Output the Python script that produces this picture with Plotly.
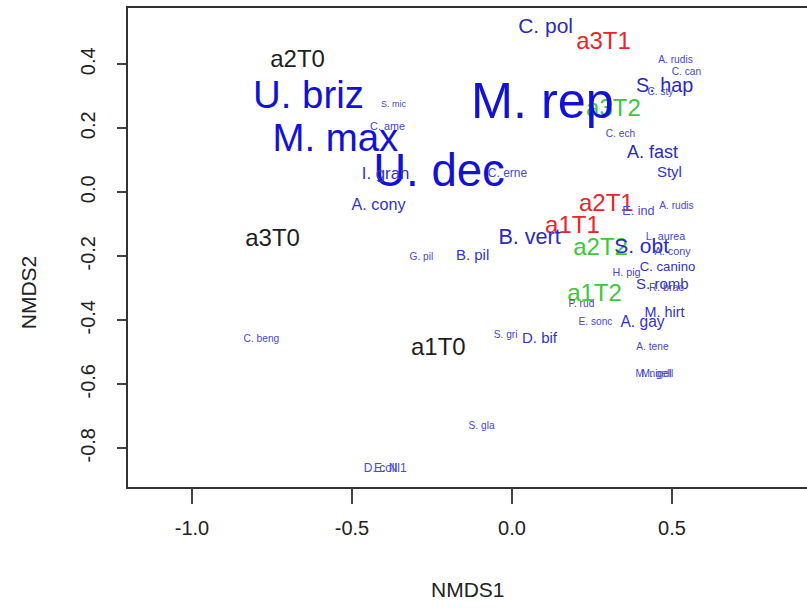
import plotly.graph_objects as go

# ---- sample (site) scores ----
sample_names = ["a2T0", "a3T0", "a1T0", "a3T1", "a2T1", "a1T1", "a3T2", "a2T2", "a1T2"]
sample_x = [-0.670, -0.748, -0.230, 0.286, 0.295, 0.189, 0.317, 0.277, 0.258]
sample_y = [0.411, -0.149, -0.490, 0.467, -0.040, -0.108, 0.257, -0.177, -0.321]
sample_time = ["T0", "T0", "T0", "T1", "T1", "T1", "T2", "T2", "T2"]

# ---- species scores (label weight = relative abundance, cex-like) ----
species_names = ["M. rep", "U. dec", "U. briz", "M. max", "C. pol", "B. vert", "S. obt",
                 "S. hap", "A. fast", "Styl", "I. gran", "A. cony", "B. pil", "D. bif",
                 "A. gay", "M. hirt", "S. romb", "C. canino", "H. pig", "R. brac",
                 "L. aurea", "A. cony", "A. rudis", "E. ind", "A. rudis", "C. can",
                 "C. sty", "C. ech", "S. mic", "C. ame", "C. erne", "G. pil", "C. beng",
                 "S. gri", "P. rud", "E. sonc", "A. tene", "M. nigell", "M. gell",
                 "S. gla", "D. coll", "E. Nl1"]
species_x = [0.095, -0.228, -0.636, -0.552, 0.105, 0.055, 0.405,
             0.477, 0.439, 0.492, -0.395, -0.417, -0.123, 0.086,
             0.408, 0.477, 0.470, 0.486, 0.358, 0.483,
             0.480, 0.502, 0.514, 0.395, 0.511, 0.545,
             0.464, 0.339, -0.370, -0.389, -0.014, -0.283, -0.783,
             -0.020, 0.217, 0.261, 0.439, 0.445, 0.452,
             -0.095, -0.411, -0.380]
species_y = [0.272, 0.056, 0.294, 0.160, 0.514, -0.146, -0.173,
             0.330, 0.121, 0.060, 0.054, -0.044, -0.199, -0.458,
             -0.409, -0.377, -0.290, -0.235, -0.254, -0.301,
             -0.142, -0.186, -0.045, -0.061, 0.411, 0.374,
             0.311, 0.180, 0.274, 0.202, 0.057, -0.204, -0.460,
             -0.448, -0.351, -0.407, -0.485, -0.570, -0.570,
             -0.732, -0.864, -0.864]
species_weight = [4.2, 3.8, 3.2, 3.2, 1.75, 1.8, 1.75,
                  1.65, 1.5, 1.25, 1.4, 1.35, 1.25, 1.25,
                  1.3, 1.2, 1.25, 1.1, 0.9, 0.9,
                  0.9, 0.9, 0.85, 1.05, 0.85, 0.85,
                  0.85, 0.85, 0.75, 0.9, 1.0, 0.85, 0.85,
                  0.85, 0.85, 0.85, 0.85, 0.85, 0.85,
                  0.85, 1.0, 1.0]

x_ticks = [-1.0, -0.5, 0.0, 0.5]
y_ticks = [-0.8, -0.6, -0.4, -0.2, 0.0, 0.2, 0.4]

FONT = "Liberation Sans, Arial, Helvetica, sans-serif"
time_colors = {"T0": "#1e1e1e", "T1": "#e8262a", "T2": "#3cc83c"}
PX_PER_CEX = 12.0


def species_color(w):
    # larger labels render as deeper blue, tiny labels look washed-out
    if w >= 3:
        return "#1212d6"
    if w >= 1.5:
        return "#2a2ac0"
    if w >= 1.1:
        return "#3333c4"
    return "#4848cc"


fig = go.Figure()

fig.add_trace(go.Scatter(
    x=sample_x, y=sample_y, text=sample_names, mode="text",
    textposition="middle center",
    textfont=dict(family=FONT, size=24, color=[time_colors[t] for t in sample_time]),
    hoverinfo="skip", showlegend=False,
))

fig.add_trace(go.Scatter(
    x=species_x, y=species_y, text=species_names, mode="text",
    textposition="middle center",
    textfont=dict(family=FONT,
                  size=[w * PX_PER_CEX for w in species_weight],
                  color=[species_color(w) for w in species_weight]),
    hoverinfo="skip", showlegend=False,
))

fig.update_layout(
    width=807, height=608,
    margin=dict(l=128, r=0, t=8, b=121),
    paper_bgcolor="white", plot_bgcolor="white",
    font=dict(family=FONT, color="#222222"),
    xaxis=dict(range=[-1.2, 0.922], tickmode="array", tickvals=x_ticks,
               ticktext=["%.1f" % v for v in x_ticks],
               showgrid=False, zeroline=False, showline=True, mirror=True,
               linecolor="#333333", linewidth=1.5,
               ticks="outside", ticklen=15, tickwidth=1.5, tickcolor="#444444",
               tickfont=dict(size=20, color="#222222"), ticklabelstandoff=7),
    yaxis=dict(range=[-0.921, 0.576], tickmode="array", tickvals=y_ticks,
               ticktext=["%.1f" % v for v in y_ticks],
               showgrid=False, zeroline=False, showline=True, mirror=False,
               linecolor="#333333", linewidth=1.5,
               ticks="outside", ticklen=9, tickwidth=1.5, tickcolor="#444444",
               tickangle=-90,
               tickfont=dict(size=20, color="#222222"), ticklabelstandoff=14),
    annotations=[
        dict(text="NMDS1", xref="paper", yref="paper", x=0.5, y=-0.215,
             showarrow=False, font=dict(size=21, color="#222222"),
             xanchor="center", yanchor="middle"),
        dict(text="NMDS2", xref="paper", yref="paper", x=-0.147, y=0.407,
             showarrow=False, textangle=-90, font=dict(size=21, color="#222222"),
             xanchor="center", yanchor="middle"),
    ],
    hovermode=False,
)

fig.write_html("out.html")
